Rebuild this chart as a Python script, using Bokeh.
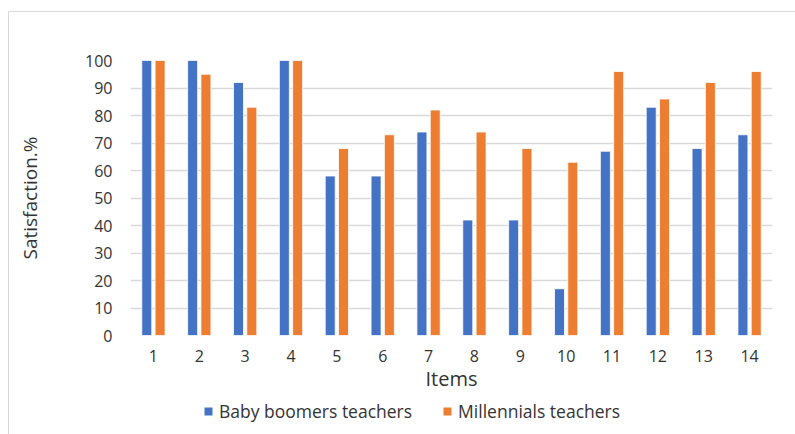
from bokeh.plotting import figure
from bokeh.layouts import column
from bokeh.models import FactorRange, Range1d, Legend, LegendItem, ColumnDataSource
from bokeh.transform import dodge
from bokeh.embed import file_html
from bokeh.resources import INLINE

# Satisfaction per questionnaire item, in percent
items = [str(i) for i in range(1, 15)]
baby_boomers = [100, 100, 92, 100, 58, 58, 74, 42, 42, 17, 67, 83, 68, 73]
millennials = [100, 95, 83, 100, 68, 73, 82, 74, 68, 63, 96, 86, 92, 96]
series_names = ["Baby boomers teachers", "Millennials teachers"]
y_ticks = list(range(0, 101, 10))

BLUE = "#4472C4"
ORANGE = "#ED7D31"
TEXT = "#333333"
GRID = "#d9d9d9"
FONT = "Open Sans"

source = ColumnDataSource(dict(items=items, boomers=baby_boomers, millennials=millennials))

p = figure(
    x_range=FactorRange(factors=items, range_padding=0),
    y_range=Range1d(0, 100),
    width=786, height=383,
    output_backend="svg", toolbar_location=None,
    min_border_left=121, min_border_right=23,
    min_border_top=48, min_border_bottom=60,
)
p.outline_line_color = None
p.background_fill_color = "white"
p.border_fill_color = "white"

bar_style = dict(source=source, width=0.218, line_color="white", line_width=0.8)
p.vbar(x=dodge("items", -0.145, range=p.x_range), top="boomers", fill_color=BLUE, **bar_style)
p.vbar(x=dodge("items", 0.145, range=p.x_range), top="millennials", fill_color=ORANGE, **bar_style)

# grid
p.xgrid.grid_line_color = None
p.ygrid.grid_line_color = GRID
p.ygrid.grid_line_width = 1.3
p.yaxis.ticker = y_ticks

for ax in (p.xaxis[0], p.yaxis[0]):
    ax.axis_line_color = None
    ax.major_tick_line_color = None
    ax.minor_tick_line_color = None
    ax.major_tick_out = 0
    ax.major_tick_in = 0
    ax.major_label_text_font = FONT
    ax.major_label_text_font_size = "16px"
    ax.major_label_text_color = TEXT
    ax.axis_label_text_font = FONT
    ax.axis_label_text_font_style = "normal"
    ax.axis_label_text_color = TEXT

p.yaxis.axis_label = "Satisfaction.%"
p.yaxis.axis_label_text_font_size = "19px"
p.yaxis.major_label_standoff = 18
p.yaxis.axis_label_standoff = 39

p.xaxis.axis_label = "Items"
p.xaxis.axis_label_text_font_size = "20px"
p.xaxis.major_label_standoff = 14
p.xaxis.axis_label_standoff = 0

# legend strip underneath the chart; its key renderers are hidden, only the keys show
leg = figure(width=786, height=39, output_backend="svg", toolbar_location=None,
             x_axis_location=None, y_axis_location=None,
             min_border=0, x_range=p.x_range, y_range=Range1d(0, 100))
leg.outline_line_color = None
leg.xgrid.grid_line_color = None
leg.ygrid.grid_line_color = None
key_style = dict(source=source, width=0.218, line_color=None, visible=False)
k1 = leg.vbar(x=dodge("items", -0.145, range=p.x_range), top="boomers", fill_color=BLUE, **key_style)
k2 = leg.vbar(x=dodge("items", 0.145, range=p.x_range), top="millennials", fill_color=ORANGE, **key_style)

legend = Legend(
    items=[LegendItem(label=series_names[0], renderers=[k1]),
           LegendItem(label=series_names[1], renderers=[k2])],
    location=(73, 11), orientation="horizontal",
    padding=0, margin=0, spacing=30, label_standoff=6,
    glyph_width=10, glyph_height=10, label_height=20,
    border_line_color=None, background_fill_alpha=0,
    inactive_fill_alpha=0,
    label_text_font=FONT, label_text_font_size="17.5px", label_text_color=TEXT,
)
leg.add_layout(legend, "center")

layout = column(p, leg, spacing=0)
layout.styles = {
    "margin-left": "8px", "margin-top": "11px",
    "border-left": "1px solid #d9d9d9", "border-top": "1px solid #d9d9d9",
}

html = file_html(layout, INLINE)
with open("out.html", "w") as f:
    f.write(html)
